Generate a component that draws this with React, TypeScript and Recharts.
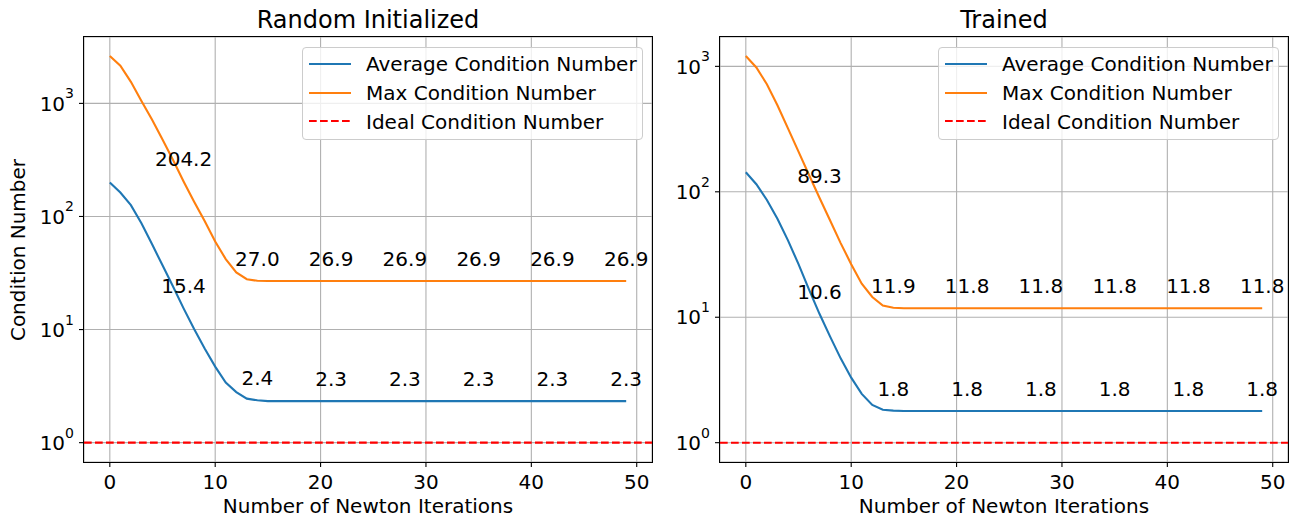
import React from 'react';
import { LineChart, Line, XAxis, YAxis, CartesianGrid, ReferenceLine } from 'recharts';

// values, iterations 0..49
const randomAvg = [
  200, 163, 126, 87, 57, 37, 24, 15.4, 10.1, 6.8,
  4.7, 3.4, 2.8, 2.45, 2.37, 2.33, 2.33, 2.33, 2.33, 2.33,
  2.33, 2.33, 2.33, 2.33, 2.33, 2.33, 2.33, 2.33, 2.33, 2.33,
  2.33, 2.33, 2.33, 2.33, 2.33, 2.33, 2.33, 2.33, 2.33, 2.33,
  2.33, 2.33, 2.33, 2.33, 2.33, 2.33, 2.33, 2.33, 2.33, 2.33,
];
const randomMax = [
  2620, 2150, 1550, 1050, 720, 480, 316, 204.2, 135, 91,
  60, 42, 32, 27.9, 27.0, 26.9, 26.9, 26.9, 26.9, 26.9,
  26.9, 26.9, 26.9, 26.9, 26.9, 26.9, 26.9, 26.9, 26.9, 26.9,
  26.9, 26.9, 26.9, 26.9, 26.9, 26.9, 26.9, 26.9, 26.9, 26.9,
  26.9, 26.9, 26.9, 26.9, 26.9, 26.9, 26.9, 26.9, 26.9, 26.9,
];
const trainedAvg = [
  143, 115, 86, 61, 41, 26.5, 16.6, 10.6, 7.0, 4.7,
  3.3, 2.45, 2.0, 1.83, 1.8, 1.79, 1.79, 1.79, 1.79, 1.79,
  1.79, 1.79, 1.79, 1.79, 1.79, 1.79, 1.79, 1.79, 1.79, 1.79,
  1.79, 1.79, 1.79, 1.79, 1.79, 1.79, 1.79, 1.79, 1.79, 1.79,
  1.79, 1.79, 1.79, 1.79, 1.79, 1.79, 1.79, 1.79, 1.79, 1.79,
];
const trainedMax = [
  1210, 980, 720, 490, 320, 209, 136, 89.3, 59, 39,
  26.5, 18.5, 14.5, 12.4, 11.9, 11.8, 11.8, 11.8, 11.8, 11.8,
  11.8, 11.8, 11.8, 11.8, 11.8, 11.8, 11.8, 11.8, 11.8, 11.8,
  11.8, 11.8, 11.8, 11.8, 11.8, 11.8, 11.8, 11.8, 11.8, 11.8,
  11.8, 11.8, 11.8, 11.8, 11.8, 11.8, 11.8, 11.8, 11.8, 11.8,
];
const idealValue = 1;
const annotatedIterations = [7, 14, 21, 28, 35, 42, 49];
const xTicks = [0, 10, 20, 30, 40, 50];
const yTicks = [1, 10, 100, 1000];
const legendItems = [
  { label: 'Average Condition Number', color: '#1f77b4', dash: '' },
  { label: 'Max Condition Number', color: '#ff7f0e', dash: '' },
  { label: 'Ideal Condition Number', color: '#ff0000', dash: '7.7 3.3' },
];

const FONT = '"DejaVu Sans", sans-serif';
const H = 523;
const TOP = 37;
const BOTTOM = 462;
const FS = 20;

const PowTick = (props: any) => {
  const { x, y, payload } = props;
  const exp = Math.round(Math.log10(payload.value));
  return (
    <g>
      <text x={x - 8.9} y={y + 7.2} textAnchor="end" fontSize={FS} fontFamily={FONT} fill="#000">10</text>
      <text x={x} y={y - 5} textAnchor="end" fontSize={14} fontFamily={FONT} fill="#000">{exp}</text>
    </g>
  );
};

const annDot = (key: string) => (props: any) => {
  const { cx, cy, index, payload } = props;
  if (!annotatedIterations.includes(index)) return <g key={`${key}-${index}`} />;
  return (
    <text key={`${key}-${index}`} x={cx} y={cy - 15} textAnchor="middle" fontSize={FS} fontFamily={FONT} fill="#000">
      {payload[key].toFixed(1)}
    </text>
  );
};

type PanelProps = {
  title: string;
  avg: number[];
  max: number[];
  left: number;
  width: number;
  axisW: number;
  rightM: number;
  yDomain: [number, number];
  yLabel?: string;
};

function Panel({ title, avg, max, left, width, axisW, rightM, yDomain, yLabel }: PanelProps) {
  const data = avg.map((a, i) => ({ it: i, avg: a, max: max[i] }));
  const plotW = width - axisW - rightM;
  const plotH = BOTTOM - TOP;
  const text = { position: 'absolute' as const, fontFamily: FONT, lineHeight: 1, color: '#000', whiteSpace: 'nowrap' as const };
  return (
    <div style={{ position: 'absolute', left, top: 0, width, height: H }}>
      <LineChart width={width} height={H} data={data} margin={{ top: TOP, right: rightM, bottom: 0, left: 0 }}>
        <CartesianGrid stroke="#b0b0b0" strokeWidth={1.1} />
        <XAxis
          dataKey="it"
          type="number"
          domain={[-2.45, 51.45]}
          ticks={xTicks}
          allowDataOverflow
          height={H - BOTTOM}
          axisLine={false}
          tickLine={{ stroke: '#000', strokeWidth: 1.1 }}
          tickSize={5}
          tickMargin={8}
          tick={{ fill: '#000', fontSize: FS, fontFamily: FONT }}
        />
        <YAxis
          type="number"
          scale="log"
          domain={yDomain}
          ticks={yTicks}
          allowDataOverflow
          width={axisW}
          axisLine={false}
          tickLine={{ stroke: '#000', strokeWidth: 1.1 }}
          tickSize={5}
          tickMargin={5}
          tick={<PowTick />}
        />
        <ReferenceLine y={idealValue} stroke="#ff0000" strokeWidth={2.1} strokeDasharray="7.7 3.3" />
        <Line type="linear" dataKey="avg" stroke="#1f77b4" strokeWidth={2.1} dot={annDot('avg')} activeDot={false} isAnimationActive={false} />
        <Line type="linear" dataKey="max" stroke="#ff7f0e" strokeWidth={2.1} dot={annDot('max')} activeDot={false} isAnimationActive={false} />
      </LineChart>

      {/* spines */}
      <div style={{ position: 'absolute', left: axisW - 0.55, top: TOP - 0.55, width: plotW + 1.1, height: plotH + 1.1, border: '1.1px solid #000', boxSizing: 'border-box', pointerEvents: 'none' }} />

      {/* title + axis labels */}
      <div style={{ ...text, left: axisW, width: plotW, top: 8, fontSize: 24, textAlign: 'center' }}>{title}</div>
      <div style={{ ...text, left: axisW, width: plotW, top: 496.1, fontSize: FS, textAlign: 'center' }}>Number of Newton Iterations</div>
      {yLabel && (
        <div style={{ ...text, left: 17.5 - 150, top: (TOP + BOTTOM) / 2 - FS / 2, width: 300, fontSize: FS, textAlign: 'center', transform: 'rotate(-90deg)' }}>
          {yLabel}
        </div>
      )}

      {/* legend */}
      <div style={{ position: 'absolute', left: axisW + plotW - 9.3 - 341, top: 47.3, width: 341, height: 92.7, border: '1px solid #cccccc', borderRadius: 4, background: 'rgba(255,255,255,0.8)', boxSizing: 'border-box' }}>
        {legendItems.map((it, i) => {
          const cy = 16.7 + i * 28.6 - 1;
          return (
            <React.Fragment key={it.label}>
              <svg style={{ position: 'absolute', left: 5, top: cy - 3, width: 44, height: 6 }}>
                <line x1={1} x2={43} y1={3} y2={3} stroke={it.color} strokeWidth={2.1} strokeDasharray={it.dash || undefined} />
              </svg>
              <div style={{ ...text, left: 63.3, top: cy - 9.6, fontSize: FS }}>{it.label}</div>
            </React.Fragment>
          );
        })}
      </div>
    </div>
  );
}

export default function App() {
  return (
    <div style={{ position: 'absolute', left: 0, top: 0, width: 1300, height: H, background: '#fff', fontFamily: FONT }}>
      <Panel
        title="Random Initialized"
        avg={randomAvg}
        max={randomMax}
        left={0}
        width={660}
        axisW={84}
        rightM={8}
        yDomain={[0.6745, 3864]}
        yLabel="Condition Number"
      />
      <Panel
        title="Trained"
        avg={trainedAvg}
        max={trainedMax}
        left={660}
        width={640}
        axisW={60}
        rightM={12}
        yDomain={[0.7015, 1714]}
      />
    </div>
  );
}
